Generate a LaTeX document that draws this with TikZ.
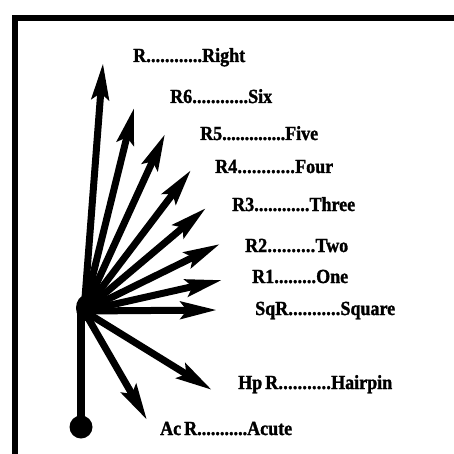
\documentclass[tikz,border=0pt]{standalone}
\usepackage{fontspec}
\setmainfont[FakeStretch=0.9,FakeBold=1.5]{Liberation Serif}
\usetikzlibrary{arrows.meta}
\newcommand\dotlabel[3]{\hbox to #1pt{#2\xleaders\hbox to 4.5pt{\hss.\hss}\hfill #3}}
\begin{document}
\begin{tikzpicture}[x=1pt,y=-1pt,
  ray/.style={line width=7pt,-{Stealth[length=36pt,width=17pt,inset=6pt]}},
  lbl/.style={anchor=base west,inner sep=0pt,font=\fontsize{20}{22}\selectfont\bfseries}]
\useasboundingbox (0,0) rectangle (454,454);
\fill[white] (0,0) rectangle (454,454);
% frame
\draw[line width=6pt,line join=miter] (14.5,470) -- (14.5,18) -- (470,18);
% hub and stem
\coordinate (hub) at (84,311);
\node[circle,fill=black,inner sep=0pt,minimum size=23pt] (ball) at (81,427) {};
\draw[line width=8pt] (ball.center) -- (81,305) coordinate (stemtop);
\fill (86,308) ellipse (10pt and 13pt);
% tips
\coordinate (tR) at (103,63);
\coordinate (t6) at (134,108);
\coordinate (t5) at (165,134);
\coordinate (t4) at (191,170);
\coordinate (t3) at (206,208);
\coordinate (t2) at (220,244);
\coordinate (t1) at (222,280);
\coordinate (tS) at (217,310);
\coordinate (tH) at (212,390);
\coordinate (tA) at (147,420);
\foreach \t in {tR,t6,t5,t4,t3,t2,t1,tS,tH,tA}
  \draw[ray] (hub) -- (\t);
% labels
\node[lbl] (lR) at (133,62) {\dotlabel{112}{R}{Right}};
\node[lbl] (l6) at (170,103) {\dotlabel{102}{R6}{Six}};
\node[lbl] (l5) at (200,140) {\dotlabel{118}{R5}{Five}};
\node[lbl] (l4) at (215,173) {\dotlabel{118}{R4}{Four}};
\node[lbl] (l3) at (232,211) {\dotlabel{123}{R3}{Three}};
\node[lbl] (l2) at (245,252) {\dotlabel{103}{R2}{Two}};
\node[lbl] (l1) at (252,283) {\dotlabel{96}{R1}{One}};
\node[lbl] (lS) at (255,315) {\dotlabel{140}{SqR}{Square}};
\node[lbl] (lH) at (238,389) {\dotlabel{154}{Hp\kern3pt R}{Hairpin}};
\node[lbl] (lA) at (160,435) {\dotlabel{132}{Ac\kern3pt R}{Acute}};
\end{tikzpicture}
\end{document}
